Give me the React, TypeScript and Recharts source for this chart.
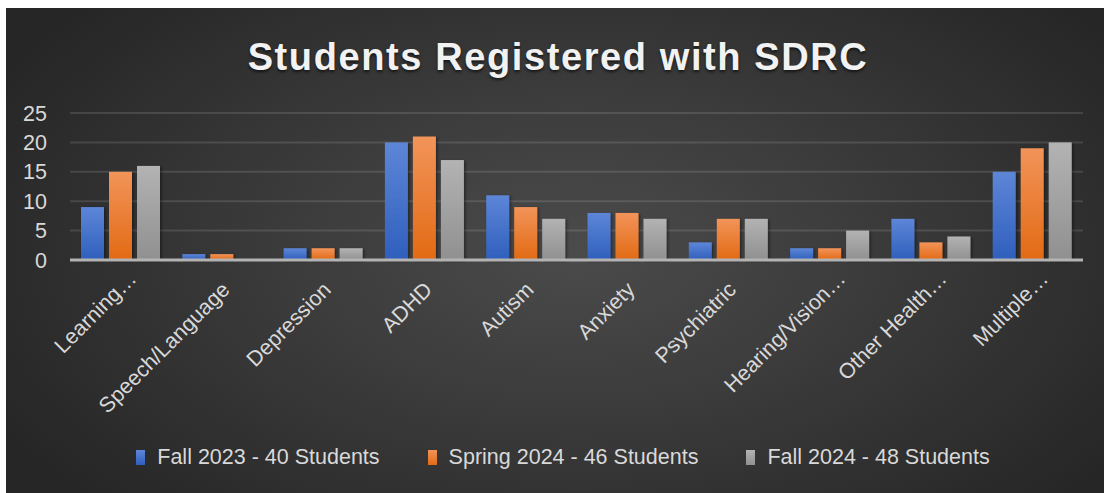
import React from 'react'
import { BarChart, Bar, XAxis, YAxis, CartesianGrid } from 'recharts'

const categories = [
  'Learning…',
  'Speech/Language',
  'Depression',
  'ADHD',
  'Autism',
  'Anxiety',
  'Psychiatric',
  'Hearing/Vision…',
  'Other Health…',
  'Multiple…'
]

const fall2023 = [9, 1, 2, 20, 11, 8, 3, 2, 7, 15]
const spring2024 = [15, 1, 2, 21, 9, 8, 7, 2, 3, 19]
const fall2024 = [16, 0, 2, 17, 7, 7, 7, 5, 4, 20]

const yTicks = [0, 5, 10, 15, 20, 25]

const seriesNames = ['Fall 2023 - 40 Students', 'Spring 2024 - 46 Students', 'Fall 2024 - 48 Students']
const seriesKeys = ['fall2023', 'spring2024', 'fall2024']

const data = categories.map((name, i) => ({
  name,
  fall2023: fall2023[i],
  spring2024: spring2024[i],
  fall2024: fall2024[i]
}))

const GRADIENTS = [
  { id: 'gBlue', top: '#5d86d7', bottom: '#2f5fbd' },
  { id: 'gOrange', top: '#f29459', bottom: '#e26a14' },
  { id: 'gGray', top: '#b3b3b3', bottom: '#909090' }
]

const FONT = '"Liberation Sans", Arial, sans-serif'
const TEXT = '#d9d9d9'

const XTick = ({ x, y, payload }: any) => {
  const cut = payload.value.endsWith('…')
  const ax = x + (cut ? 17 : 9)
  const ay = y + (cut ? 20 : 31)
  return (
    <text
      x={ax}
      y={ay}
      fill={TEXT}
      fontSize={21.5}
      fontFamily={FONT}
      textAnchor="end"
      transform={`rotate(-45 ${ax} ${ay})`}
    >
      {payload.value}
    </text>
  )
}

const YTick = ({ x, y, payload }: any) => (
  <text x={x} y={y} dy={7.5} fill={TEXT} fontSize={21.5} fontFamily={FONT} textAnchor="end">
    {payload.value}
  </text>
)

const makeShape = (gid: string) => (p: any) => (
  <rect x={p.x} y={p.y} width={p.width} height={p.height} fill={`url(#${gid})`} filter="url(#barShadow)" />
)

export default function App() {
  return (
    <div
      style={{
        position: 'absolute',
        left: 6,
        top: 8,
        width: 1098,
        height: 485,
        background: 'radial-gradient(ellipse 60% 75% at 52% 50%, #4b4b4b 0%, #3b3b3b 45%, #262626 100%)',
        fontFamily: FONT
      }}
    >
      <div
        style={{
          position: 'absolute',
          top: 30,
          left: 0,
          width: 1098,
          paddingLeft: 6,
          boxSizing: 'border-box',
          textAlign: 'center',
          fontSize: 38,
          lineHeight: '38px',
          fontWeight: 'bold',
          letterSpacing: 1.6,
          color: '#f2f2f2',
          textShadow: '0 2px 3px rgba(0,0,0,0.6)'
        }}
      >
        Students Registered with SDRC
      </div>

      <BarChart
        width={1098}
        height={485}
        data={data}
        margin={{ top: 105, right: 21, left: 0, bottom: 0 }}
        barSize={23}
        barGap={5}
      >
        <defs>
          {GRADIENTS.map(g => (
            <linearGradient key={g.id} id={g.id} x1="0" y1="0" x2="0" y2="1">
              <stop offset="0%" stopColor={g.top} />
              <stop offset="100%" stopColor={g.bottom} />
            </linearGradient>
          ))}
          <filter id="barShadow" x="-30%" y="-10%" width="160%" height="130%">
            <feDropShadow dx="1.5" dy="1" stdDeviation="1.5" floodColor="#000" floodOpacity="0.45" />
          </filter>
        </defs>
        <CartesianGrid vertical={false} stroke="rgba(255,255,255,0.12)" strokeWidth={2} />
        <XAxis
          dataKey="name"
          interval={0}
          height={233}
          tickLine={false}
          tickSize={0}
          tickMargin={0}
          axisLine={{ stroke: '#b3b3b3', strokeWidth: 3 }}
          tick={<XTick />}
        />
        <YAxis
          width={64}
          domain={[0, 25]}
          ticks={yTicks}
          interval={0}
          axisLine={false}
          tickLine={false}
          tickSize={0}
          tickMargin={23}
          tick={<YTick />}
        />
        {seriesKeys.map((k, i) => (
          <Bar
            key={k}
            dataKey={k}
            name={seriesNames[i]}
            isAnimationActive={false}
            shape={makeShape(GRADIENTS[i].id)}
          />
        ))}
      </BarChart>

      <div
        style={{
          position: 'absolute',
          top: 439,
          left: 0,
          width: 1098,
          paddingLeft: 16,
          boxSizing: 'border-box',
          display: 'flex',
          justifyContent: 'center',
          gap: 48,
          fontSize: 21.5,
          lineHeight: '21px',
          color: TEXT
        }}
      >
        {seriesNames.map((n, i) => (
          <div key={n} style={{ display: 'flex', alignItems: 'center', gap: 12 }}>
            <span
              style={{
                display: 'inline-block',
                width: 9,
                height: 15,
                background: `linear-gradient(${GRADIENTS[i].top}, ${GRADIENTS[i].bottom})`
              }}
            />
            <span>{n}</span>
          </div>
        ))}
      </div>
    </div>
  )
}
